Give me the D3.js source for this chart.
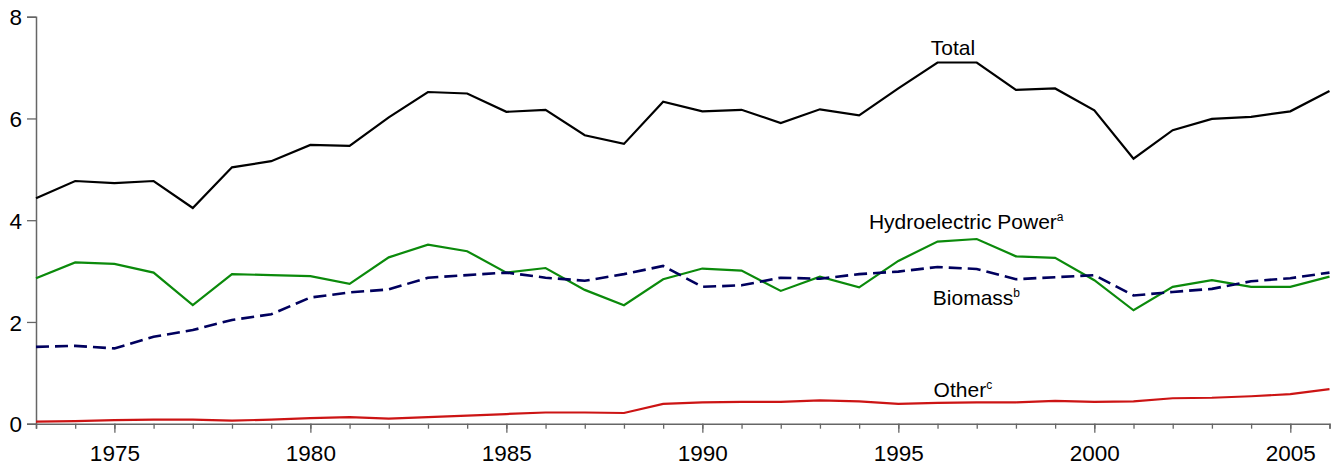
<!DOCTYPE html>
<html>
<head>
<meta charset="utf-8">
<script src="https://cdn.jsdelivr.net/npm/d3@7"></script>
<style>
  html, body { margin: 0; padding: 0; background: #fff; }
  svg { display: block; font-family: "Liberation Sans", Arial, sans-serif; }
</style>
</head>
<body>
<svg id="chart" width="1335" height="469"></svg>
<script>
const years = d3.range(1973, 2007);
const total = [4.43,4.77,4.73,4.77,4.24,5.04,5.16,5.48,5.46,6.02,6.52,6.49,6.13,6.17,5.67,5.50,6.33,6.14,6.17,5.91,6.18,6.06,6.59,7.10,7.10,6.56,6.59,6.16,5.21,5.77,5.99,6.03,6.14,6.54];
const hydro = [2.86,3.17,3.14,2.97,2.33,2.94,2.92,2.90,2.75,3.27,3.52,3.39,2.97,3.06,2.63,2.33,2.84,3.05,3.01,2.61,2.89,2.68,3.20,3.58,3.63,3.29,3.26,2.82,2.23,2.69,2.82,2.69,2.69,2.89];
const biomass = [1.51,1.53,1.48,1.71,1.84,2.04,2.15,2.48,2.58,2.64,2.87,2.92,2.97,2.87,2.81,2.94,3.10,2.69,2.72,2.87,2.85,2.94,2.99,3.08,3.04,2.84,2.88,2.92,2.52,2.59,2.65,2.80,2.86,2.97];
const other = [0.04,0.05,0.07,0.08,0.08,0.06,0.08,0.11,0.13,0.10,0.13,0.16,0.19,0.22,0.22,0.21,0.39,0.42,0.43,0.43,0.46,0.44,0.39,0.41,0.42,0.42,0.45,0.43,0.44,0.50,0.51,0.54,0.58,0.68];
const yTicks = [0, 2, 4, 6, 8];
const xMajorTicks = [1975, 1980, 1985, 1990, 1995, 2000, 2005];
const seriesNames = ["Total", "Hydroelectric Power", "Biomass", "Other"];
const seriesSup = ["", "a", "b", "c"];

const svg = d3.select("#chart");
const x = d3.scaleLinear().domain([1973, 2006]).range([36, 1329.5]);
const y = d3.scaleLinear().domain([0, 8]).range([423.7, 16.7]);

const axisColor = "#666";

const gxMinor = svg.append("g").attr("transform", `translate(0,${y(0)})`)
  .call(d3.axisBottom(x).tickValues(years).tickSize(5).tickFormat(""));
const gxMajor = svg.append("g").attr("transform", `translate(0,${y(0)})`)
  .call(d3.axisBottom(x).tickValues(xMajorTicks).tickSize(9).tickPadding(12).tickFormat(d3.format("d")));
gxMajor.select(".domain").remove();
const gy = svg.append("g").attr("transform", `translate(${x(1973)},0)`)
  .call(d3.axisLeft(y).tickValues(yTicks).tickSize(9).tickPadding(5).tickFormat(d3.format("d")));

[gxMinor, gxMajor, gy].forEach(g => {
  g.selectAll(".domain").attr("stroke", axisColor).attr("stroke-width", 1.5);
  g.selectAll(".tick line").attr("stroke", axisColor).attr("stroke-width", 1.3);
  g.selectAll(".tick text").attr("fill", "#000").attr("font-size", 22.5)
    .attr("font-family", "'Liberation Sans', Arial, sans-serif");
});
gy.selectAll(".tick text").attr("dy", "0.36em");

const line = d3.line().x((d, i) => x(years[i])).y(d => y(d));

const styles = [
  { data: total, color: "#000000", dash: null },
  { data: hydro, color: "#0b8a0b", dash: null },
  { data: biomass, color: "#00005e", dash: "13,6" },
  { data: other, color: "#cc1414", dash: null }
];
[3, 1, 2, 0].forEach(k => {
  const s = styles[k];
  svg.append("path").datum(s.data)
    .attr("d", line)
    .attr("fill", "none")
    .attr("stroke", s.color)
    .attr("stroke-width", k === 2 ? 2.6 : 2.2)
    .attr("stroke-linejoin", "miter")
    .attr("stroke-dasharray", s.dash);
});

const labelPos = [
  [1995.83, 7.25],
  [1994.25, 3.83],
  [1995.88, 2.34],
  [1995.90, 0.53]
];
seriesNames.forEach((name, i) => {
  const t = svg.append("text")
    .attr("x", x(labelPos[i][0]))
    .attr("y", y(labelPos[i][1]))
    .attr("font-size", 21)
    .attr("fill", "#000");
  t.append("tspan").text(name);
  if (seriesSup[i]) {
    t.append("tspan").attr("font-size", 12).attr("dy", -8).text(seriesSup[i]);
  }
});
</script>
</body>
</html>
